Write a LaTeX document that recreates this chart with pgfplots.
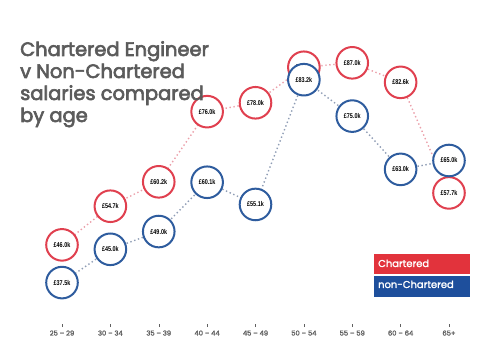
\documentclass[border=0pt]{standalone}
\usepackage{fontspec}
\setmainfont{Poppins}
\newfontfamily\titlefont[FakeBold=3.2]{Poppins}
\newfontfamily\legfont[FakeBold=1.6]{Poppins}
\newfontfamily\narrowfont[FakeStretch=0.78]{Liberation Sans}
\usepackage{pgfplots}
\pgfplotsset{compat=1.18}
\usepackage{pgfplotstable}
\definecolor{cred}{HTML}{E0404F}
\definecolor{cblue}{HTML}{2E5C9E}
\definecolor{lred}{HTML}{EBA0AA}
\definecolor{lblue}{HTML}{8F9DB5}
\definecolor{titlegray}{HTML}{5B5B5B}
\definecolor{legred}{HTML}{E2333C}
\definecolor{legblue}{HTML}{1E4F9C}
\definecolor{tickgray}{HTML}{606060}

\pgfplotstableread{
x y label
0 46.0 £46.0k
1 54.7 £54.7k
2 60.2 £60.2k
3 76.0 £76.0k
4 78.0 £78.0k
5 86.0 £86.0k
6 87.0 £87.0k
7 82.6 £82.6k
8 57.7 £57.7k
}\chartered

\pgfplotstableread{
x y label
0 37.5 £37.5k
1 45.0 £45.0k
2 49.0 £49.0k
3 60.1 £60.1k
4 55.1 £55.1k
5 83.2 £83.2k
6 75.0 £75.0k
7 63.0 £63.0k
8 65.0 £65.0k
}\nonchartered

\begin{document}
\begin{tikzpicture}
\path[use as bounding box] (0,0) rectangle (500bp,361bp);
\begin{axis}[
  at={(62bp,34bp)}, anchor=south west,
  scale only axis, width=387bp, height=277.5bp,
  xmin=0, xmax=8, ymin=27.5, ymax=90,
  clip=false,
  axis line style={draw=none},
  ytick=\empty,
  xtick={0,...,8},
  xticklabels={25 – 29,30 – 34,35 – 39,40 – 44,45 – 49,50 – 54,55 – 59,60 – 64,65+},
  xtick pos=lower,
  tick align=inside,
  major tick length=3bp,
  x tick style={tickgray, line width=0.4bp},
  x tick label style={font=\legfont\fontsize{6.8}{8}\selectfont, text=tickgray},
  every node near coord/.append style={anchor=center, font=\narrowfont\fontsize{7}{8}\selectfont\bfseries, text=black},
]
\addplot[lred, line width=1.4bp, dash pattern=on 1.4bp off 2.6bp] table[x=x,y=y] {\chartered};
\addplot[lblue, line width=1.4bp, dash pattern=on 1.4bp off 2.6bp] table[x=x,y=y] {\nonchartered};
\addplot[only marks, mark=*, mark size=15.8bp, mark options={draw=cred, fill=white, line width=2bp},
  point meta=explicit symbolic, nodes near coords] table[x=x,y=y,meta=label] {\chartered};
\addplot[only marks, mark=*, mark size=15.8bp, mark options={draw=cblue, fill=white, line width=2bp},
  point meta=explicit symbolic, nodes near coords] table[x=x,y=y,meta=label] {\nonchartered};
\end{axis}
\begin{scope}[every node/.style={anchor=base west, inner sep=0pt, text=titlegray, font=\titlefont\fontsize{19.5}{22}\selectfont}]
\node at (20bp,305bp) {Chartered Engineer};
\node at (20bp,283bp) {v Non-Chartered};
\node at (20bp,261bp) {salaries compared};
\node at (20bp,239bp) {by age};
\end{scope}
\fill[legred] (374bp,87bp) rectangle (470bp,107bp);
\fill[legblue] (374bp,64bp) rectangle (470bp,85bp);
\node[anchor=base west, inner sep=0pt, text=white, font=\legfont\fontsize{10}{12}\selectfont] at (378bp,94bp) {Chartered};
\node[anchor=base west, inner sep=0pt, text=white, font=\legfont\fontsize{10}{12}\selectfont] at (378bp,73bp) {non-Chartered};
\end{tikzpicture}
\end{document}
